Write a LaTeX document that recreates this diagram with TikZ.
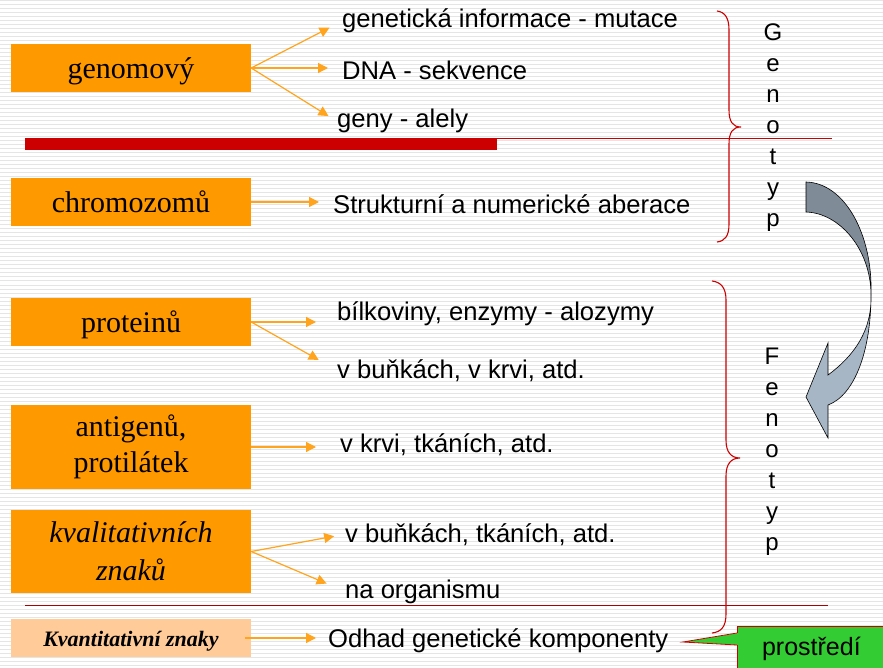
\documentclass[tikz,border=0pt]{standalone}
\usepackage{fontspec}
\setmainfont{Liberation Serif}
\setsansfont{Liberation Sans}
\usetikzlibrary{arrows.meta,positioning}
\definecolor{BoxOrange}{HTML}{FF9900}
\definecolor{PaleOrange}{HTML}{FFCC99}
\definecolor{ArrOrange}{HTML}{FFA41C}
\definecolor{LineRed}{HTML}{CC0000}
\definecolor{EnvGreen}{HTML}{33CC33}
\definecolor{SlateDark}{HTML}{7F8B97}
\definecolor{SlateLight}{HTML}{A7B6C5}

\begin{document}
\begin{tikzpicture}[x=1pt,y=-1pt,
  levelbox/.style={fill=BoxOrange,minimum width=240pt,minimum height=48pt,
    align=center,inner sep=0pt,font=\fontsize{30}{36}\selectfont},
  oneline/.style={text height=25pt,text depth=4pt},
  item/.style={anchor=base west,inner sep=0pt,font=\sffamily\fontsize{25.6}{30}\selectfont},
  arr/.style={ArrOrange,line width=1.2pt,-{Triangle[length=10pt,width=10pt]},shorten >=14pt},
  vert/.style={align=center,inner sep=0pt,font=\sffamily\fontsize{24}{31}\selectfont},
  brace/.style={LineRed,line width=1.1pt}]
  \useasboundingbox (0,0) rectangle (883,668);
  \fill[white] (0,0) rectangle (883,668);
  \foreach \y in {1,5,...,668}
    \draw[black!10,line width=1pt] (0,\y) -- (883,\y);

  % levels
  \node[levelbox,oneline] (genom) at (131,68) {genomový};
  \node[levelbox,oneline] (chromo) at (131,202) {chromozomů};
  \node[levelbox,oneline] (protein) at (131,322) {proteinů};
  \node[levelbox,minimum height=84pt] (antigen) at (131,447) {antigenů,\\protilátek};
  \node[levelbox,minimum height=83pt,font=\itshape\fontsize{30}{38}\selectfont] (kvalit) at (131,551.5) {kvalitativních\\znaků};
  \node[levelbox,fill=PaleOrange,minimum height=38pt,text height=20pt,text depth=4pt,
        font=\bfseries\itshape\fontsize{22}{26}\selectfont] (kvant) at (131,638) {Kvantitativní znaky};

  \node[item] (info) at (342,28) {genetická informace - mutace};
  \node[item] (dna) at (342,80) {DNA - sekvence};
  \node[item] (geny) at (337,128) {geny - alely};
  \node[item] (aber) at (333,214) {Strukturní a numerické aberace};
  \node[item] (bilk) at (337,320) {bílkoviny, enzymy - alozymy};
  \node[item] (bunky) at (337,378) {v buňkách, v krvi, atd.};
  \node[item] (tkane) at (340,452) {v krvi, tkáních, atd.};
  \node[item] (bunkyt) at (345,542) {v buňkách, tkáních, atd.};
  \node[item] (organ) at (345,598) {na organismu};
  \node[item] (odhad) at (328,647) {Odhad genetické komponenty};

  \draw[arr] (genom.east) -- (info.west);
  \draw[arr] (genom.east) -- (genom.east -| dna.west);
  \draw[arr,shorten >=10pt] (genom.east) -- (geny.west);
  \draw[arr] (chromo.east) -- (chromo.east -| aber.west);
  \draw[arr,shorten >=21pt] (protein.east) -- (protein.east -| bilk.west);
  \draw[arr,shorten >=21pt] (protein.east) -- (bunky.west);
  \draw[arr,shorten >=24pt] (antigen.east) -- (antigen.east -| tkane.west);
  \draw[arr,shorten >=11pt] (kvalit.east) -- (bunkyt.west);
  \draw[arr,shorten >=20pt] (kvalit.east) -- (organ.west);
  \draw[arr,shorten >=12pt] ([xshift=-6pt]kvant.east) -- (kvant.east -| odhad.west);

  % separators
  \draw[LineRed,line width=1.1pt] (25,138.5) -- (832,138.5);
  \fill[LineRed] (25,138) rectangle (497,150);
  \draw[LineRed!85!black,line width=1pt] (25,605) -- (828,605);

  % braces
  \draw[brace] (717,11) .. controls (725,12) and (729,18) .. (729,30) -- (729,110)
    .. controls (729,122) and (733,127) .. (741,127)
    .. controls (733,127) and (729,132) .. (729,144) -- (729,224)
    .. controls (729,236) and (725,241) .. (717,242);
  \draw[brace] (712,281) .. controls (721,282) and (726,288) .. (726,300) -- (726,440)
    .. controls (726,452) and (731,458) .. (740,458)
    .. controls (731,458) and (726,464) .. (726,476) -- (726,614)
    .. controls (726,627) and (721,632) .. (712,633);
  \node[vert] (geno) at (773,128) {G\\e\\n\\o\\t\\y\\p};
  \node[vert] (feno) at (772,452) {F\\e\\n\\o\\t\\y\\p};

  % curved arrow
  \filldraw[fill=SlateDark,draw=black,line width=0.6pt] (806,182)
    .. controls (845,183) and (873,235) .. (871,295)
    .. controls (871,250) and (840,213) .. (806,212) -- cycle;
  \filldraw[fill=SlateLight,draw=black,line width=0.6pt] (871,295)
    .. controls (871,350) and (855,395) .. (828,405) -- (828,438) -- (806,397)
    -- (828,343) -- (828,375) .. controls (855,355) and (872,330) .. (871,295) -- cycle;

  % environment callout
  \node[fill=EnvGreen,draw=LineRed,line width=0.8pt,minimum width=170pt,minimum height=44pt,
        font=\sffamily\fontsize{25}{30}\selectfont,anchor=north west,inner sep=0pt]
        (env) at (737,626) {\hspace*{-22pt}prostředí};
  \coordinate (tip) at (683,642);
  \fill[EnvGreen] (738,633) -- (tip) -- (738,645) -- cycle;
  \draw[LineRed,line width=0.8pt] (737,633) -- (tip) -- (737,645);
\end{tikzpicture}
\end{document}
